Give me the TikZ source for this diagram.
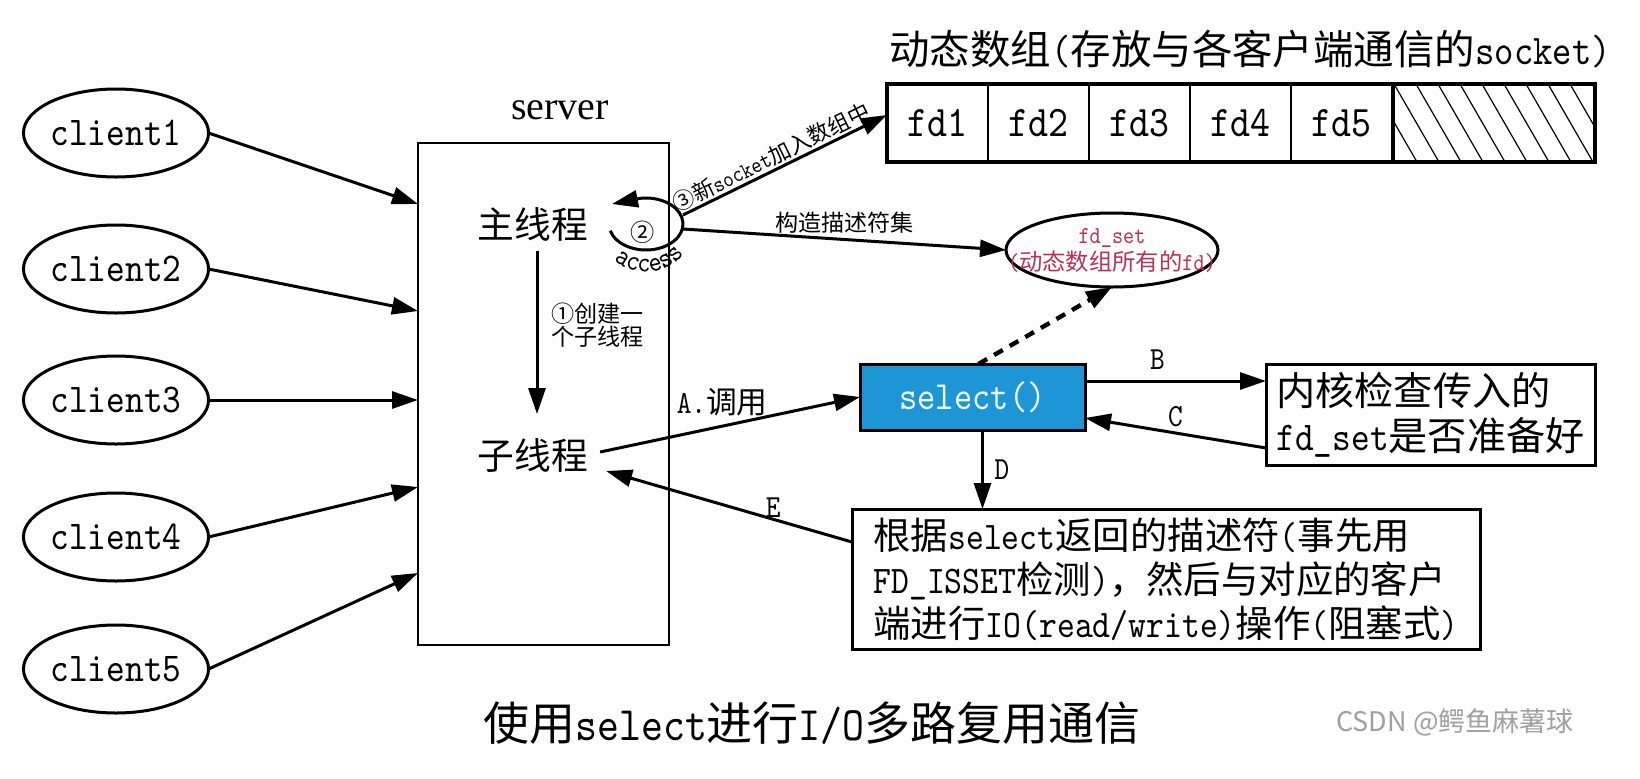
\documentclass[tikz,border=0pt]{standalone}
\usepackage{fontspec}
\usetikzlibrary{arrows.meta,shapes.geometric,decorations.text,calc}
\setmonofont{lmmono10-regular.otf}[Scale=1.15, FakeStretch=0.87]
\newfontfamily\cjk{Noto Sans CJK SC}[Scale=1.1]
\newfontfamily\serifrm{Liberation Serif}
\newfontfamily\wmfont{Noto Sans CJK SC}
\newcommand\zh[1]{{\cjk #1}}
\newcommand\setfs[1]{\fontsize{#1}{#1}\selectfont}
\definecolor{selblue}{RGB}{30,150,214}
\definecolor{fdred}{RGB}{185,50,80}
\definecolor{wmgray}{RGB}{160,160,160}

\begin{document}
\begin{tikzpicture}[x=0.5pt,y=-0.5pt,
  every node/.style={inner sep=0pt, outer sep=0pt},
  conn/.style={line width=1.5pt, -{Triangle[length=13pt,width=8.5pt]}},
  client/.style={draw, line width=1.5pt, ellipse, minimum width=90pt, minimum height=44pt, font=\ttfamily\setfs{17.8}},
  cell/.style={draw, line width=1.2pt, minimum width=50.5pt, minimum height=39pt, font=\ttfamily\setfs{19}},
  lbl/.style={font=\ttfamily\setfs{14}},
  small/.style={font=\ttfamily\setfs{10.5}},
]
\useasboundingbox (0,0) rectangle (1640,778);
\fill[white] (0,0) rectangle (1640,778);

% clients
\node[client] (c1) at (116,133) {client1};
\node[client] (c2) at (116,269) {client2};
\node[client] (c3) at (116,400) {client3};
\node[client] (c4) at (116,537) {client4};
\node[client] (c5) at (116,669) {client5};

% server box and its threads
\node[draw, line width=1.2pt, minimum width=125.5pt, minimum height=251pt] (srv) at (543.5,394) {};
\node[font=\serifrm\setfs{20}] (srvlbl) at (560,110) {server};
\node[font=\cjk\setfs{16.7}] (main) at (533,224) {主线程};
\node[font=\cjk\setfs{16.7}] (sub) at (533,455) {子线程};
\node[anchor=west, align=left, font=\ttfamily\fontsize{10.5}{10.5}\selectfont] (lab1) at (551,325) {\zh{①创建一}\\\zh{个子线程}};

\coordinate (in1) at (418,204);
\coordinate (in2) at (418,311);
\coordinate (in3) at (418,400);
\coordinate (in4) at (418,487);
\coordinate (in5) at (418,573);
\draw[conn] (c1.east) -- (in1);
\draw[conn] (c2.east) -- (in2);
\draw[conn] (c3.east) -- (in3);
\draw[conn] (c4.east) -- (in4);
\draw[conn] (c5.east) -- (in5);

\draw[conn, shorten <=5pt, shorten >=12pt] ([xshift=2pt]main.south) -- ([xshift=2pt]sub.north);

% access loop of the main thread
\coordinate (lc) at (646,224);
\coordinate (lt) at (612,204);
\draw[conn] (lc) ++(165:37 and 26) arc[start angle=165, end angle=-100, x radius=37, y radius=26] -- (lt);
\node[font=\cjk\setfs{11}] (n2) at (643,232) {②};
\path[decorate, decoration={text along path, text align=center, text={|\ttfamily\setfs{12.5}|access}}]
  (lc) ++(150:48) arc[start angle=150, end angle=20, radius=48];

% dynamic array
\node[font=\ttfamily\setfs{18.4}] (ttl) at (1250,49) {\zh{动态数组}(\zh{存放与各客户端通信的}socket)};
\node[cell] (fd1) at (937.5,123) {fd1};
\node[cell] (fd2) at (1038.5,123) {fd2};
\node[cell] (fd3) at (1139.5,123) {fd3};
\node[cell] (fd4) at (1240.5,123) {fd4};
\node[cell] (fd5) at (1341.5,123) {fd5};
\node[cell, minimum width=100.5pt] (fdx) at (1494.5,123) {};
\begin{scope}
  \clip (fdx.north west) rectangle (fdx.south east);
  \foreach \i in {-2,...,9}
    \draw[line width=0.6pt] ($(fdx.north west)+(\i*22,0)$) -- ++(45,78);
\end{scope}
\draw[line width=2pt] (fd1.north west) rectangle (fdx.south east);

% fd_set
\node[draw, ellipse, line width=1.5pt, minimum width=106pt, minimum height=37pt] (fdset) at (1112,250) {};
\node[font=\ttfamily\fontsize{10.6}{13.5}\selectfont, text=fdred, align=center] (fdtxt) at (fdset) {fd\_set\\(\zh{动态数组所有的}fd)};

\coordinate (lr1) at (683,215);
\coordinate (lr2) at (683,229);
\draw[conn] (lr1) -- ([yshift=4pt]fd1.west) node[pos=0.46, sloped, above=1.5pt, font=\ttfamily\setfs{10}] {\zh{③新}socket\zh{加入数组中}};
\draw[conn] (lr2) -- (fdset.west) node[midway, above=3pt, small] {\zh{构造描述符集}};

% select and kernel
\node[draw, line width=1.5pt, fill=selblue, minimum width=112.5pt, minimum height=33pt, font=\ttfamily\setfs{17.4}, text=white!92!selblue] (sel) at (972.5,397) {select()};
\node[draw, line width=1.5pt, minimum width=164.5pt, minimum height=50.5pt, align=left, font=\ttfamily\fontsize{17.8}{22.5}\selectfont] (ker) at (1430.5,414.5) {\zh{内核检查传入的}\\fd\_set\zh{是否准备好}};
\node[draw, line width=1.5pt, minimum width=314pt, minimum height=70pt, align=left, font=\ttfamily\fontsize{17}{22}\selectfont] (bot) at (1166,579)
  {\zh{根据}select\zh{返回的描述符}(\zh{事先用}\\FD\_ISSET\zh{检测})\zh{，然后与对应的客户}\\\zh{端进行}IO(read/write)\zh{操作}(\zh{阻塞式})};

\draw[line width=2.2pt, dash pattern=on 5pt off 4pt, -{Triangle[length=13pt,width=9pt]}] ([xshift=3pt]sel.north) -- (fdset.south);

\draw[conn] ([xshift=6pt,yshift=1.5pt]sub.east) -- (sel.west) node[pos=0.47, above=5pt, lbl] {A.\zh{调用}};
\draw[conn] ([yshift=8pt]sel.east) -- ([yshift=8pt]sel.east -| ker.west) node[pos=0.4, above=6pt, lbl] {B};
\draw[conn] ([yshift=-16.75pt]ker.west) -- ([yshift=-10.5pt]sel.east) node[pos=0.5, above=3pt, lbl] {C};
\draw[conn] ([xshift=5pt]sel.south) -- ([xshift=5pt]sel.south |- bot.north) node[midway, right=6pt, lbl] {D};
\draw[conn] ([yshift=18.5pt]bot.west) -- ([xshift=9pt,yshift=-8pt]sub.east) node[pos=0.32, above=1pt, lbl] {E};

% caption and credit
\node[font=\ttfamily\setfs{20.9}] (cap) at (812,723) {\zh{使用}select\zh{进行}I/O\zh{多路复用通信}};
\node[font=\wmfont\setfs{13.5}, text=wmgray] (wm) at (1455,722) {CSDN @鳄鱼麻薯球};
\end{tikzpicture}
\end{document}
